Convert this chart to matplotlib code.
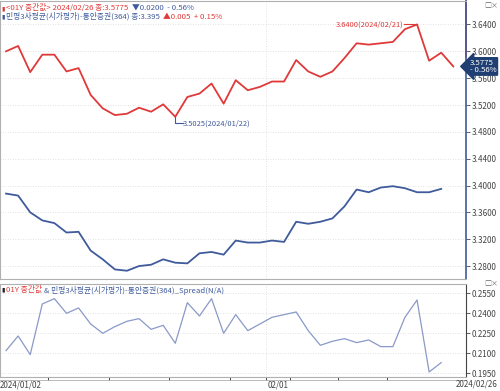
import numpy as np
import matplotlib.pyplot as plt

plt.rcParams['font.family'] = ['Noto Sans CJK KR', 'DejaVu Sans']

dates = ['01/02', '01/03', '01/04', '01/05', '01/08', '01/09', '01/10', '01/11', '01/12',
         '01/15', '01/16', '01/17', '01/18', '01/19', '01/22', '01/23', '01/24', '01/25',
         '01/26', '01/29', '01/30', '01/31', '02/01', '02/02', '02/05', '02/06', '02/07',
         '02/08', '02/13', '02/14', '02/15', '02/16', '02/19', '02/20', '02/21', '02/22',
         '02/23', '02/26']
mondays = ['01/08', '01/15', '01/22', '01/29', '02/05', '02/13', '02/19']

y01 = [3.600, 3.608, 3.569, 3.595, 3.595, 3.570, 3.575, 3.535, 3.515, 3.505,
       3.507, 3.516, 3.510, 3.521, 3.5025, 3.532, 3.537, 3.552, 3.522, 3.557,
       3.542, 3.547, 3.555, 3.555, 3.587, 3.570, 3.562, 3.570, 3.590, 3.612,
       3.610, 3.612, 3.614, 3.633, 3.640, 3.586, 3.598, 3.5775]
msb = [3.388, 3.385, 3.360, 3.348, 3.344, 3.330, 3.331, 3.303, 3.290, 3.275,
       3.273, 3.280, 3.282, 3.290, 3.285, 3.284, 3.299, 3.301, 3.297, 3.318,
       3.315, 3.315, 3.318, 3.316, 3.346, 3.343, 3.346, 3.351, 3.369, 3.394,
       3.390, 3.397, 3.399, 3.396, 3.390, 3.390, 3.395]

top_ticks = [3.28, 3.32, 3.36, 3.40, 3.44, 3.48, 3.52, 3.56, 3.60, 3.64]
bot_ticks = [0.195, 0.210, 0.225, 0.240, 0.255]

red = '#e0393a'
blue = '#3f5b9b'
lblue = '#8a99c8'
grid = '#d8d8d8'
fs = 5.6   # legend / label text
fn = 5.4   # numbers

x1 = np.arange(len(y01))
x2 = np.arange(len(msb))
spread = np.array(y01[:len(msb)]) - np.array(msb)

fig = plt.figure(figsize=(5, 3.91), dpi=100)
ax = fig.add_axes([0.0, 1 - 279 / 391, 0.932, 278 / 391])
ax2 = fig.add_axes([0.0, 1 - 377 / 391, 0.932, 93 / 391])

xl = (-0.5, 38.05)
ax.plot(x1, y01, color=red, lw=1.3)
ax.plot(x2, msb, color=blue, lw=1.3)
ax.set_xlim(*xl)
ax.set_ylim(3.2607, 3.675)
ax2.plot(x2, spread, color=lblue, lw=0.9)
ax2.set_xlim(*xl)
ax2.set_ylim(0.1922, 0.262)

feb1 = dates.index('02/01') - 0.5
for a, ticks in [(ax, top_ticks), (ax2, bot_ticks)]:
    a.yaxis.tick_right()
    a.set_yticks(ticks)
    a.set_yticklabels(['{:.4f}'.format(t) for t in ticks])
    a.tick_params(axis='y', direction='out', length=3, width=0.6, labelsize=fn + 0.4,
                  labelcolor='#444444', pad=1, colors='#444444')
    a.set_xticks([])
    for t in ticks:
        a.axhline(t, color=grid, lw=0.6, ls=(0, (1, 2)), zorder=0)
    a.axvline(feb1, color=grid, lw=0.6, ls=(0, (1, 2)), zorder=0)
    for s in ['left', 'top', 'bottom']:
        a.spines[s].set_color('#b0b0b0')
        a.spines[s].set_linewidth(0.8)

ax.spines['right'].set_color(blue)
ax.spines['right'].set_linewidth(1.2)
ax.plot([1, 1], [0.80, 1.0], transform=ax.transAxes, color=red, lw=1.2, clip_on=False)
ax2.spines['right'].set_color('#444444')
ax2.spines['right'].set_linewidth(0.8)

renderer = fig.canvas.get_renderer()


def chain(a, y, parts, x0=0.003):
    # write text pieces one after another in one row (axes coords)
    x = x0
    for s, c, size, gap in parts:
        t = a.text(x, y, s, color=c, fontsize=size, transform=a.transAxes, va='top')
        bb = t.get_window_extent(renderer).transformed(a.transAxes.inverted())
        x = bb.x1 + gap


chain(ax, 0.988, [('▮', red, 4.5, 0.002), ('<01Y 중간값> 2024/02/26 종:3.5775', red, fs, 0.008),
                  ('▼0.0200  - 0.56%', blue, fs, 0)])
chain(ax, 0.958, [('▮', blue, 4.5, 0.002), ('민평3사평균(시가평가)-통안증권(364) 종:3.395', blue, fs, 0.008),
                  ('▲0.005  + 0.15%', red, fs, 0)])
chain(ax2, 0.98, [('▮', '#222222', 4.5, 0.002), ('01Y 중간값', red, fs, 0.004),
                  ('& 민평3사평균(시가평가)-통안증권(364)_Spread(N/A)', blue, fs, 0)])

# min / max markers
imin = int(np.argmin(y01))
imax = int(np.argmax(y01))
ax.plot([imin, imin, imin + 0.6], [y01[imin], y01[imin] - 0.010, y01[imin] - 0.010],
        color=blue, lw=0.8)
ax.text(imin + 0.65, y01[imin] - 0.010, '3.5025(2024/01/22)', color=blue, fontsize=fn,
        va='center', ha='left')
ax.plot([imax - 1.1, imax], [y01[imax], y01[imax]], color=red, lw=0.8)
ax.text(imax - 1.1, y01[imax], '3.6400(2024/02/21)', color=red, fontsize=fn,
        va='center', ha='right')

# last value tag
ax.text(1.008, y01[-1], '3.5775\n- 0.56%', transform=ax.get_yaxis_transform(),
        color='white', fontsize=5.6, va='center', ha='left', linespacing=0.85,
        bbox=dict(boxstyle='larrow,pad=0.15', fc='#1f3f73', ec='#1f3f73'))

# close icons
fig.text(0.968, 0.995, '□×', color='#666666', fontsize=5, va='top', ha='left')
fig.text(0.968, 1 - 280 / 391, '□×', color='#666666', fontsize=5, va='top', ha='left')

# date axis
for d in mondays + ['02/01']:
    xd = dates.index(d) - 0.5
    ax2.plot([xd, xd], [0, -0.03], transform=ax2.get_xaxis_transform(), color='#444444',
             lw=0.7, clip_on=False)
ax2.plot([0, 1], [-0.03, -0.03], transform=ax2.transAxes, color='#b0b0b0', lw=0.6,
         clip_on=False)
ax2.text(0.0, -0.04, '2024/' + dates[0], transform=ax2.transAxes, fontsize=fn + 0.4,
         color='#444444', va='top', ha='left')
ax2.text(feb1 + 0.1, -0.04, dates[22], transform=ax2.get_xaxis_transform(), fontsize=fn + 0.4,
         color='#444444', va='top', ha='left')
fig.text(0.996, 3 / 391, '2024/' + dates[-1], fontsize=fn + 0.4, color='#444444',
         va='bottom', ha='right')

fig.savefig('out.png', dpi=100)
